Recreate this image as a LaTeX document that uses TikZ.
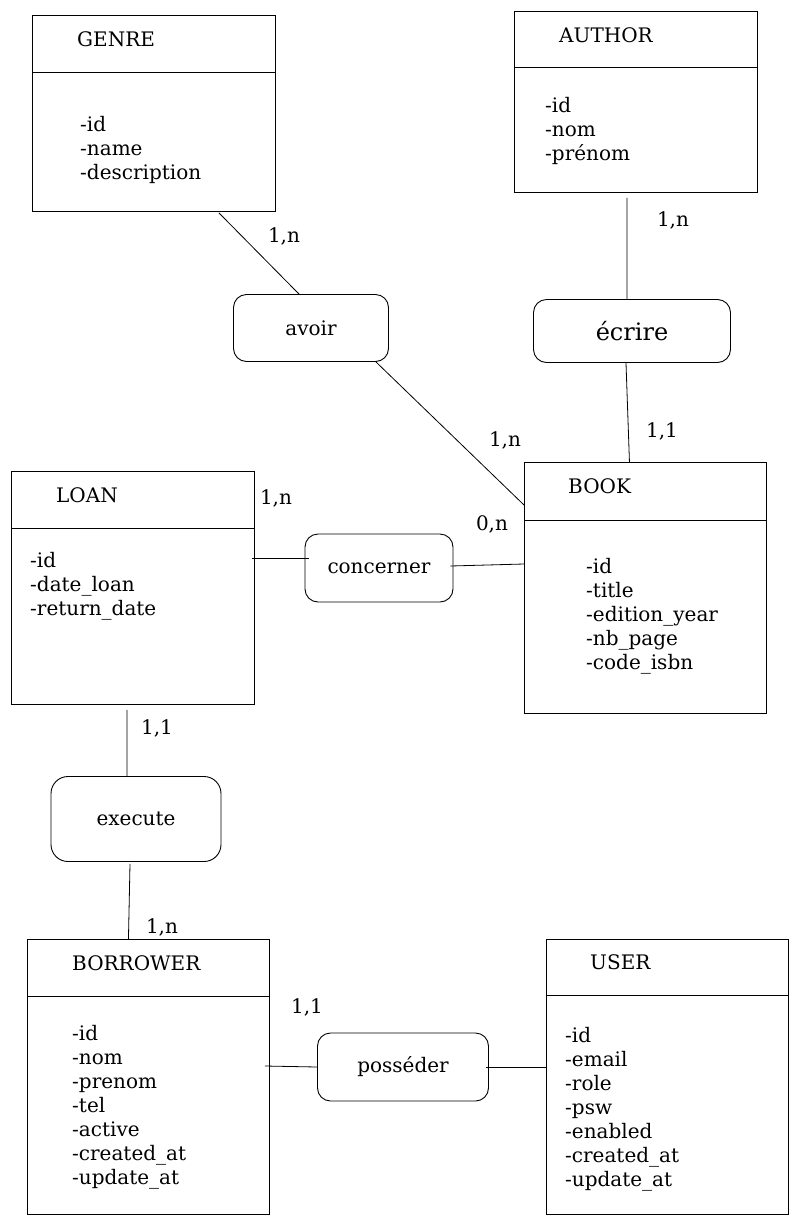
\documentclass[tikz,border=0pt]{standalone}
\usepackage{fontspec}
\setmainfont{DejaVu Serif}
\usetikzlibrary{calc}
\tikzset{
  entity/.style={draw, line width=0.9pt, anchor=north west, inner sep=0pt},
  rel/.style={draw, line width=0.9pt, rounded corners=13pt, inner sep=0pt},
  head/.style={anchor=base west, inner sep=0pt},
  attr/.style={anchor=base west, inner sep=0pt},
  card/.style={inner sep=0pt},
  link/.style={line width=0.8pt}
}
\begin{document}
\begin{tikzpicture}[x=1pt, y=-1pt, font=\fontsize{20}{24}\selectfont]
    \useasboundingbox (0,0) rectangle (798,1224);
    % entities
    \node[entity, minimum width=243pt, minimum height=196pt] (genre) at (32,15) {};
    \draw[line width=0.9pt] ($(genre.north west)+(0,57)$) -- ($(genre.north east)+(0,57)$);
    \node[head] (genre-t) at (77,46) {GENRE};
    \foreach \a [count=\i] in {-id,-name,-description}
        \node[attr] (genre-\i) at (80,107+24*\i) {\a};

    \node[entity, minimum width=243pt, minimum height=181pt] (author) at (514,11) {};
    \draw[line width=0.9pt] ($(author.north west)+(0,56)$) -- ($(author.north east)+(0,56)$);
    \node[head] (author-t) at (559,42) {AUTHOR};
    \foreach \a [count=\i] in {-id,-nom,-prénom}
        \node[attr] (author-\i) at (545,88+24*\i) {\a};

    \node[entity, minimum width=242pt, minimum height=251pt] (book) at (524,462) {};
    \draw[line width=0.9pt] ($(book.north west)+(0,58)$) -- ($(book.north east)+(0,58)$);
    \node[head] (book-t) at (568,493) {BOOK};
    \foreach \a [count=\i] in {-id,-title,-edition\_year,-nb\_page,-code\_isbn}
        \node[attr] (book-\i) at (586,549+24*\i) {\a};

    \node[entity, minimum width=243pt, minimum height=233pt] (loan) at (11,471) {};
    \draw[line width=0.9pt] ($(loan.north west)+(0,57)$) -- ($(loan.north east)+(0,57)$);
    \node[head] (loan-t) at (56,502) {LOAN};
    \foreach \a [count=\i] in {-id,-date\_loan,-return\_date}
        \node[attr] (loan-\i) at (30,543+24*\i) {\a};

    \node[entity, minimum width=242pt, minimum height=275pt] (borrower) at (27,939) {};
    \draw[line width=0.9pt] ($(borrower.north west)+(0,57)$) -- ($(borrower.north east)+(0,57)$);
    \node[head] (borrower-t) at (72,970) {BORROWER};
    \foreach \a [count=\i] in {-id,-nom,-prenom,-tel,-active,-created\_at,-update\_at}
        \node[attr] (borrower-\i) at (72,1016+24*\i) {\a};

    \node[entity, minimum width=242pt, minimum height=275pt] (user) at (546,939) {};
    \draw[line width=0.9pt] ($(user.north west)+(0,56)$) -- ($(user.north east)+(0,56)$);
    \node[head] (user-t) at (590,969) {USER};
    \foreach \a [count=\i] in {-id,-email,-role,-psw,-enabled,-created\_at,-update\_at}
        \node[attr] (user-\i) at (565,1018+24*\i) {\a};

    % relations
    \node[rel, minimum width=155pt, minimum height=67pt] (avoir) at (311,328) {avoir};
    \node[rel, minimum width=197pt, minimum height=63pt, font=\fontsize{24}{28}\selectfont] (ecrire) at (632,331) {écrire};
    \node[rel, minimum width=148pt, minimum height=68pt] (concerner) at (379,568) {concerner};
    \node[rel, minimum width=170pt, minimum height=85pt, rounded corners=17pt] (execute) at (136,819) {execute};
    \node[rel, minimum width=171pt, minimum height=68pt] (posseder) at (403,1067) {posséder};

    % links
    \draw[link] ($(genre.south)+(65,1)$) -- ($(avoir.north)+(-12,0)$);
    \draw[link] ($(avoir.south)+(65,0)$) -- ($(book.north west)+(0,43)$);
    \draw[link] ($(author.south)+(-9,5)$) -- ($(ecrire.north)+(-5,0)$);
    \draw[link] ($(ecrire.south)+(-6,0)$) -- ($(book.north)+(-16,0)$);
    \draw[link] ($(loan.north east)+(-3,87)$) -- ($(concerner.west)+(4,-10)$);
    \draw[link] ($(concerner.east)+(-3,-2)$) -- ($(book.north west)+(0,102)$);
    \draw[link] ($(loan.south)+(-6,5)$) -- ($(execute.north)+(-9,0)$);
    \draw[link] ($(execute.south)+(-6,2)$) -- ($(borrower.north)+(-20,0)$);
    \draw[link] ($(borrower.north east)+(-5,127)$) -- (posseder.west);
    \draw[link] ($(posseder.east)+(-3,0)$) -- ($(user.north west)+(0,128)$);

    % cardinalities
    \node[card] (c1) at (284,236) {1,n};
    \node[card] (c2) at (673,220) {1,n};
    \node[card] (c3) at (662,431) {1,1};
    \node[card] (c4) at (505,440) {1,n};
    \node[card] (c5) at (276,498) {1,n};
    \node[card] (c6) at (492,524) {0,n};
    \node[card] (c7) at (157,728) {1,1};
    \node[card] (c8) at (162,927) {1,n};
    \node[card] (c9) at (307,1007) {1,1};
\end{tikzpicture}
\end{document}
